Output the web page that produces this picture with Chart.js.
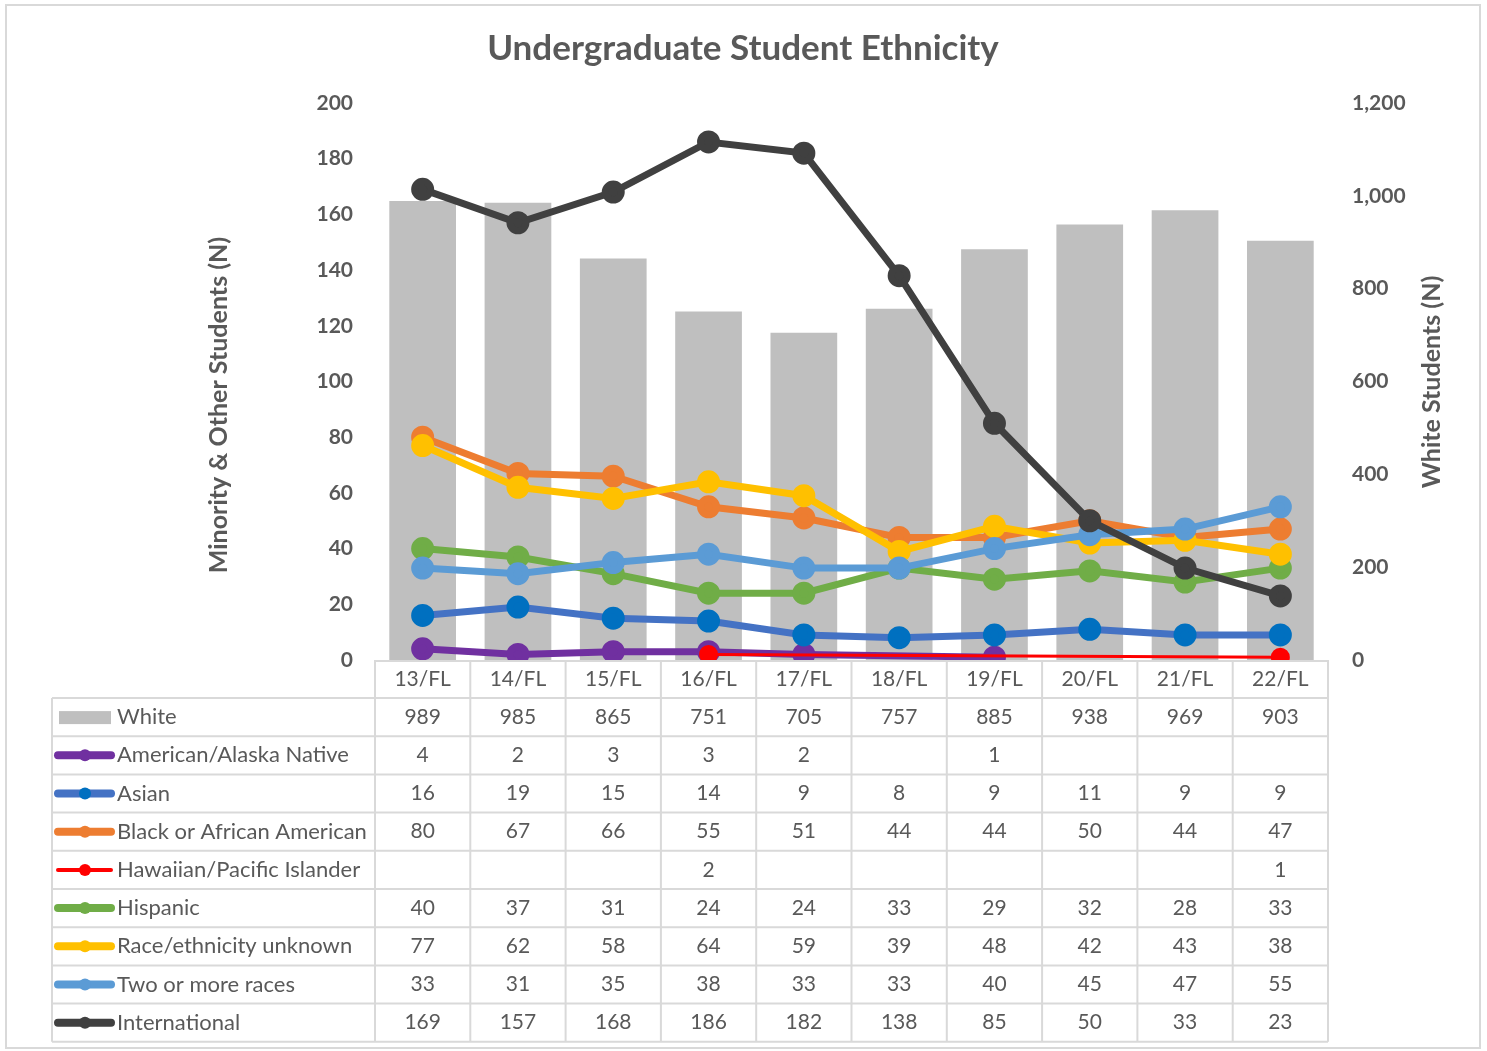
<!DOCTYPE html>
<html>
<head>
<meta charset="utf-8">
<script src="https://cdn.jsdelivr.net/npm/chart.js@4/dist/chart.umd.min.js"></script>
<style>
  body { margin: 0; background: #fff; }
  #wrap { width: 1487px; height: 1051px; }
</style>
</head>
<body>
<div id="wrap"><canvas id="ethChart" width="1487" height="1051"></canvas></div>
<script>
// --- data ---
const terms = ["13/FL", "14/FL", "15/FL", "16/FL", "17/FL", "18/FL", "19/FL", "20/FL", "21/FL", "22/FL"];
const white = [989, 985, 865, 751, 705, 757, 885, 938, 969, 903];
const amerNative = [4, 2, 3, 3, 2, null, 1, null, null, null];
const asian = [16, 19, 15, 14, 9, 8, 9, 11, 9, 9];
const black = [80, 67, 66, 55, 51, 44, 44, 50, 44, 47];
const hawaiian = [null, null, null, 2, null, null, null, null, null, 1];
const hispanic = [40, 37, 31, 24, 24, 33, 29, 32, 28, 33];
const unknown = [77, 62, 58, 64, 59, 39, 48, 42, 43, 38];
const twoOrMore = [33, 31, 35, 38, 33, 33, 40, 45, 47, 55];
const international = [169, 157, 168, 186, 182, 138, 85, 50, 33, 23];

const FONT = "Lato, 'Open Sans', sans-serif";
const TEXT = "#595959";
const GRID = "#D9D9D9";

function lineSet(label, data, color, idx, opts = {}) {
  return Object.assign({
    type: "line",
    label: label,
    data: data,
    yAxisID: "y",
    borderColor: color,
    backgroundColor: color,
    pointBackgroundColor: color,
    pointBorderColor: color,
    borderWidth: 7,
    pointRadius: 8,
    pointHoverRadius: 8,
    spanGaps: true,
    tension: 0,
    order: 10 - idx
  }, opts);
}

const datasets = [
  {
    type: "bar",
    label: "White",
    data: white,
    yAxisID: "y1",
    backgroundColor: "#BFBFBF",
    categoryPercentage: 1,
    barPercentage: 0.7,
    order: 20
  },
  lineSet("American/Alaska Native", amerNative, "#7030A0", 1),
  lineSet("Asian", asian, "#4472C4", 2, { pointBackgroundColor: "#0070C0", pointBorderColor: "#0070C0" }),
  lineSet("Black or African American", black, "#ED7D31", 3),
  lineSet("Hawaiian/Pacific Islander", hawaiian, "#FF0000", 4, { borderWidth: 3 }),
  lineSet("Hispanic", hispanic, "#70AD47", 5),
  lineSet("Race/ethnicity unknown", unknown, "#FFC000", 6),
  lineSet("Two or more races", twoOrMore, "#5B9BD5", 7),
  lineSet("International", international, "#404040", 8)
];

// draws the background, frame, title, axis titles and the data table under the plot
const tablePlugin = {
  id: "dataTable",
  beforeDraw(chart) {
    const ctx = chart.ctx;
    ctx.save();
    ctx.fillStyle = "#fff";
    ctx.fillRect(0, 0, chart.width, chart.height);
    ctx.strokeStyle = GRID;
    ctx.lineWidth = 2;
    ctx.strokeRect(6, 5, 1474, 1043);
    ctx.restore();
  },
  afterDraw(chart) {
    const ctx = chart.ctx;
    const area = chart.chartArea;
    const xs = chart.scales.x;
    const n = terms.length;
    const colW = (area.right - area.left) / n;
    const headTop = area.bottom;
    const headBottom = area.bottom + 38;
    const rowH = 38.2;
    const labelLeft = 52;
    const rows = chart.data.datasets;
    const tableBottom = headBottom + rowH * rows.length;

    ctx.save();
    // title
    ctx.fillStyle = TEXT;
    ctx.textAlign = "center";
    ctx.textBaseline = "middle";
    ctx.font = "bold 35px " + FONT;
    ctx.fillText("Undergraduate Student Ethnicity", 743, 49);

    // axis titles
    ctx.font = "bold 25px " + FONT;
    ctx.save();
    ctx.translate(219, 405);
    ctx.rotate(-Math.PI / 2);
    ctx.fillText("Minority & Other Students (N)", 0, 0);
    ctx.restore();
    ctx.save();
    ctx.translate(1432, 382);
    ctx.rotate(-Math.PI / 2);
    ctx.fillText("White Students (N)", 0, 0);
    ctx.restore();

    // grid lines of the table
    ctx.strokeStyle = GRID;
    ctx.lineWidth = 2;
    ctx.beginPath();
    ctx.moveTo(area.left, headTop + 1);
    ctx.lineTo(area.right, headTop + 1);
    for (let i = 0; i <= rows.length; i++) {
      const y = headBottom + i * rowH;
      ctx.moveTo(labelLeft, y);
      ctx.lineTo(area.right, y);
    }
    for (let c = 0; c <= n; c++) {
      const x = area.left + c * colW;
      ctx.moveTo(x, headTop);
      ctx.lineTo(x, tableBottom);
    }
    ctx.moveTo(labelLeft, headBottom);
    ctx.lineTo(labelLeft, tableBottom);
    ctx.stroke();

    // rows
    rows.forEach((ds, r) => {
      const cy = headBottom + r * rowH + rowH / 2;
      // legend key
      if (ds.type === "bar") {
        ctx.fillStyle = ds.backgroundColor;
        ctx.fillRect(59, cy - 6, 52, 13);
      } else {
        ctx.strokeStyle = ds.borderColor;
        ctx.lineWidth = ds.borderWidth + 1;
        ctx.lineCap = "round";
        ctx.beginPath();
        ctx.moveTo(58, cy);
        ctx.lineTo(111, cy);
        ctx.stroke();
        ctx.fillStyle = ds.pointBackgroundColor;
        ctx.beginPath();
        ctx.arc(85, cy, 6, 0, Math.PI * 2);
        ctx.fill();
      }
      ctx.fillStyle = TEXT;
      ctx.textAlign = "left";
      ctx.font = "22px " + FONT;
      ctx.fillText(ds.label, 117, cy);
      ctx.textAlign = "center";
      ctx.font = "21px " + FONT;
      ds.data.forEach((v, i) => {
        if (v === null) return;
        ctx.fillText(String(v), xs.getPixelForValue(i), cy);
      });
    });
    ctx.restore();
  }
};

new Chart(document.getElementById("ethChart"), {
  data: { labels: terms, datasets: datasets },
  plugins: [tablePlugin],
  options: {
    responsive: false,
    animation: false,
    devicePixelRatio: 1,
    layout: { padding: { top: 103, left: 0, right: 0, bottom: 0 } },
    plugins: {
      legend: { display: false },
      title: { display: false },
      tooltip: { enabled: false }
    },
    scales: {
      x: {
        grid: { display: false, drawTicks: false },
        border: { display: false },
        ticks: { color: TEXT, font: { family: FONT, size: 21 }, padding: 7, maxRotation: 0 },
        afterFit: (s) => { s.height = 391; }
      },
      y: {
        position: "left",
        min: 0,
        max: 200,
        grid: { display: false, drawTicks: false },
        border: { display: false },
        ticks: { stepSize: 20, color: TEXT, font: { family: FONT, size: 21, weight: "bold" }, padding: 22 },
        afterFit: (s) => { s.width = 375; }
      },
      y1: {
        position: "right",
        min: 0,
        max: 1200,
        grid: { display: false, drawTicks: false },
        border: { display: false },
        ticks: {
          stepSize: 200,
          color: TEXT,
          font: { family: FONT, size: 21, weight: "bold" },
          padding: 24,
          callback: (v) => v.toLocaleString("en-US")
        },
        afterFit: (s) => { s.width = 159; }
      }
    }
  }
});
</script>
</body>
</html>
